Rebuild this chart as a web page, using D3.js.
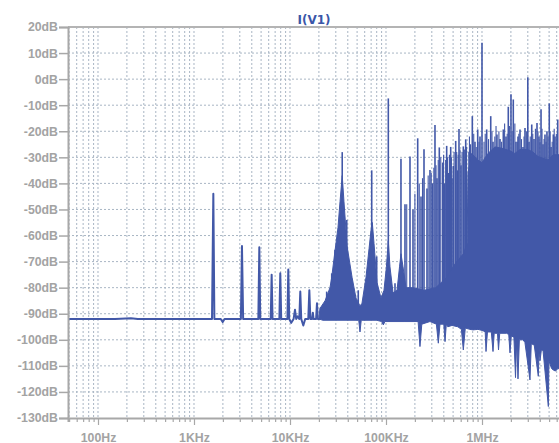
<!DOCTYPE html>
<html>
<head>
<meta charset="utf-8">
<script src="https://cdn.jsdelivr.net/npm/d3@7"></script>
<style>
    body { margin: 0; background: #fff; }
    svg { display: block; font-family: "DejaVu Sans", Verdana, sans-serif; }
    .axis text { fill: #a3a3a3; font-size: 12.3px; font-weight: bold; }
    .axis line, .axis path { stroke: #a8a8a8; }
</style>
</head>
<body>
<svg id="fft" width="559" height="443"></svg>
<script>
// axis ticks
const dbTicks = [20, 10, 0, -10, -20, -30, -40, -50, -60, -70, -80, -90, -100, -110, -120, -130];
const decades = [100, 1e3, 1e4, 1e5, 1e6];
const decadeLabels = ["100Hz", "1KHz", "10KHz", "100KHz", "1MHz"];

// [freq Hz, dB] - flat floor + first harmonics
const lowTrace = [
    [48.7, -92], [100, -92], [150, -92], [220, -91.7], [260, -92], [1540, -92], [1590, -44], [1630, -92],
    [1900, -92], [1990, -93.2], [2080, -92], [3080, -92], [3160, -64], [3250, -92], [4680, -92], [4790, -64.5],
    [4900, -92], [6300, -92], [6440, -75], [6580, -92], [7750, -92], [7920, -74.5], [8100, -92], [9400, -92],
    [9600, -73], [9820, -92], [10300, -93.5], [10900, -92], [11270, -88.5], [11600, -92], [12000, -91],
    [12500, -92], [12800, -81.5], [13100, -92], [13760, -94.5], [14400, -92], [15500, -92], [15900, -81],
    [16300, -92], [17000, -92], [17300, -89.6], [17600, -92], [18700, -92], [19100, -86], [19500, -92],
    [20500, -92]
];

// dense part: top and bottom edge of the filled band
const bandTop = [
    [20000, -92], [20500, -88], [23200, -85], [26100, -80], [27200, -76], [29400, -66], [31600, -57],
    [33200, -47], [35000, -37], [36500, -47], [39300, -64], [44300, -76], [48700, -84], [53600, -87],
    [56200, -86], [61900, -76], [66600, -65], [69800, -58], [72000, -55], [75000, -63], [80600, -78],
    [88700, -84], [95300, -81], [101000, -72], [105700, -62], [110000, -72], [118400, -82], [130300, -81],
    [138300, -72], [143300, -67], [150400, -72], [161600, -80], [190000, -80], [250000, -81], [330000, -80],
    [430000, -76], [520000, -71], [640000, -67], [700000, -63], [714000, -36], [781000, -28.5], [900000, -31],
    [1.0e6, -32], [1.155e6, -28.5], [1.365e6, -26], [1.61e6, -26.5], [1.96e6, -27.5], [2.2e6, -28.5],
    [2.49e6, -27], [3.0e6, -27], [3.4e6, -28], [3.83e6, -29.7], [4.87e6, -31], [5.5e6, -29], [6.34e6, -29],
    [1e7, -29]
];
const bandBottom = [
    [20000, -92], [22000, -92.5], [30000, -92.5], [52000, -92.5], [53600, -97], [55200, -92.5], [80000, -92.5],
    [90000, -93], [93800, -94.3], [97500, -93], [157700, -93], [216000, -93], [225800, -102.6], [236000, -94],
    [287000, -93], [335000, -94], [350700, -101.3], [365000, -94], [400000, -94], [412000, -100.7],
    [425000, -94], [440000, -95], [487000, -94.5], [560000, -95], [610000, -96], [638800, -103.9],
    [670000, -95.5], [750000, -96], [806000, -96.2], [908000, -96], [1.024e6, -96.5], [1.08e6, -97],
    [1.101e6, -104.5], [1.14e6, -97], [1.25e6, -97], [1.302e6, -104.5], [1.34e6, -97.5], [1.45e6, -97.5],
    [1.486e6, -103.9], [1.53e6, -97.5], [1.807e6, -97.5], [1.9e6, -98], [1.957e6, -105], [2.02e6, -98.5],
    [2.15e6, -99], [2.234e6, -114.5], [2.3e6, -100], [2.371e6, -115], [2.45e6, -100], [2.673e6, -100],
    [2.8e6, -101], [3.162e6, -115.4], [3.26e6, -101.5], [3.5e6, -102], [3.86e6, -114], [3.94e6, -103],
    [4.02e6, -108], [4.15e6, -104], [4.32e6, -104], [4.91e6, -125.6], [4.98e6, -108], [5.3e6, -111],
    [5.49e6, -111.5], [5.83e6, -112], [6.19e6, -111], [7.3e6, -112], [1e7, -112]
];

// harmonic spikes sticking out of the band [freq Hz, peak dB]
const spikes = [
    [24100, -81.5], [27200, -74.5], [29400, -65.5], [35000, -28], [39000, -54], [43900, -77], [51400, -81],
    [71000, -35], [80000, -68], [105700, -7.4], [124100, -78.3], [143200, -30.5], [157700, -48], [177800, -29.7],
    [191100, -50], [213900, -22.7], [231600, -45], [248800, -26.9], [267300, -42], [287100, -34.9],
    [305100, -40], [323800, -17.6], [339800, -38], [359100, -26.2], [389700, -32], [406600, -40],
    [428600, -25.6], [447700, -36], [472000, -26], [487000, -38], [502300, -33.3], [532000, -23.7],
    [555800, -35], [575900, -19.1], [604100, -33], [638800, -25.8], [676600, -23.1], [732500, -27.9],
    [792500, -14.2], [845000, -24], [902000, -19.3], [953000, -22], [1.0e6, 14], [1.119e6, -19.3],
    [1.233e6, -14.2], [1.302e6, -24], [1.432e6, -21.2], [1.54e6, -23], [1.667e6, -19.3], [1.778e6, -22],
    [1.879e6, -10.6], [2.004e6, -5.8], [2.118e6, -7.8], [2.259e6, -24], [2.371e6, -22], [2.488e6, -19.3],
    [2.673e6, -26], [2.805e6, -18.7], [3.0e6, 0.7], [3.09e6, -24], [3.297e6, -17.4], [3.481e6, -23],
    [3.74e6, -16.8], [3.926e6, -22], [4.12e6, -11.6], [4.32e6, -25], [4.53e6, -21.2], [4.75e6, -20],
    [5.02e6, -9.3], [5.24e6, -26], [5.53e6, -21.2], [5.76e6, -22], [6.15e6, -15.5]
];

// thinner in-between lines (comb + hairy top of the band)
const minorSpikes = [
    [164400, -48], [200000, -44], [222000, -40], [240000, -38], [275000, -37], [296000, -36], [315000, -34],
    [332000, -33], [350000, -31], [372000, -30], [398000, -29], [418000, -31], [438000, -30], [458000, -29],
    [480000, -30], [512000, -28], [545000, -28], [565000, -29], [590000, -27], [620000, -28], [655000, -27],
    [690000, -26], [740000, -22], [760000, -25], [820000, -21], [870000, -26], [930000, -24], [1.05e6, -24],
    [1.08e6, -21], [1.17e6, -23], [1.27e6, -20], [1.36e6, -22], [1.4e6, -18], [1.5e6, -20], [1.6e6, -24],
    [1.72e6, -17], [1.83e6, -21], [1.93e6, -18], [2.06e6, -20], [2.2e6, -17], [2.33e6, -24], [2.42e6, -21],
    [2.58e6, -23], [2.74e6, -22], [2.9e6, -20], [3.18e6, -22], [3.38e6, -21], [3.6e6, -19], [3.83e6, -20],
    [4.02e6, -24], [4.22e6, -19], [4.43e6, -23], [4.65e6, -24], [4.88e6, -22], [5.13e6, -20], [5.38e6, -24],
    [5.65e6, -19], [5.95e6, -21]
];

const traceColor = "#4258a8";
const gridColor = "#a9b6c4";

const svg = d3.select("#fft");
const pLeft = 68, pTop = 27, pBottom = 418, pRight = 578;

const x = d3.scaleLog().domain([48.7, 1e7]).range([pLeft, pRight]);
const y = d3.scaleLinear().domain([-130, 20]).range([pBottom, pTop]);

// grid freqs: 1..9 per decade
let gridFreqs = [];
[10, 100, 1e3, 1e4, 1e5, 1e6].forEach(d => {
    d3.range(1, 10).forEach(m => {
        let f = d * m;
        if (f > x.domain()[0] && f < x.domain()[1]) gridFreqs.push(f);
    });
});

// Grid
let grid = svg.append("g");
grid.selectAll(".vg").data(gridFreqs).enter().append("line")
    .attr("x1", d => x(d)).attr("x2", d => x(d))
    .attr("y1", pTop).attr("y2", pBottom)
    .attr("stroke", gridColor).attr("stroke-width", 1).attr("stroke-dasharray", "2,2");
grid.selectAll(".hg").data(dbTicks.filter(d => d > -130 && d < 20)).enter().append("line")
    .attr("x1", pLeft).attr("x2", pRight)
    .attr("y1", d => y(d)).attr("y2", d => y(d))
    .attr("stroke", gridColor).attr("stroke-width", 1).attr("stroke-dasharray", "2,2");

// top frame line
svg.append("line")
    .attr("x1", pLeft).attr("x2", pRight).attr("y1", pTop).attr("y2", pTop)
    .attr("stroke", "#b4b4b4").attr("stroke-width", 2);

// Trace
svg.append("clipPath").attr("id", "clip")
    .append("rect").attr("x", pLeft).attr("y", pTop).attr("width", pRight - pLeft).attr("height", pBottom - pTop);
let plot = svg.append("g").attr("clip-path", "url(#clip)");

let line = d3.line().x(d => x(d[0])).y(d => y(d[1]));

plot.append("path")
    .attr("d", line(lowTrace))
    .attr("fill", "none")
    .attr("stroke", traceColor)
    .attr("stroke-width", 2)
    .attr("stroke-linejoin", "round");

plot.selectAll(".minor").data(minorSpikes).enter().append("line")
    .attr("x1", d => x(d[0])).attr("x2", d => x(d[0]))
    .attr("y1", y(-90)).attr("y2", d => y(d[1]))
    .attr("stroke", traceColor)
    .attr("stroke-width", 1.1);

plot.selectAll(".spike").data(spikes).enter().append("line")
    .attr("x1", d => x(d[0])).attr("x2", d => x(d[0]))
    .attr("y1", y(-90)).attr("y2", d => y(d[1]))
    .attr("stroke", traceColor)
    .attr("stroke-width", 1.6);

// band polygon: top edge forward, bottom edge back
let band = bandTop.concat(bandBottom.slice().reverse());
plot.append("path")
    .attr("d", line(band) + "Z")
    .attr("fill", traceColor)
    .attr("stroke", traceColor)
    .attr("stroke-width", 1)
    .attr("stroke-linejoin", "round");

// Axes
let yAxis = d3.axisLeft(y)
    .tickValues(dbTicks)
    .tickSize(9)
    .tickPadding(1)
    .tickFormat(d => d + "dB");
let gy = svg.append("g").attr("class", "axis")
    .attr("transform", "translate(" + pLeft + ",0)")
    .call(yAxis);
gy.select(".domain").attr("stroke-width", 2);
gy.selectAll(".tick line").attr("stroke-width", 1.5);

let xAxis = d3.axisBottom(x)
    .tickValues(gridFreqs)
    .tickSize(4)
    .tickFormat(d => {
        let i = decades.indexOf(d);
        return i >= 0 ? decadeLabels[i] : "";
    });
let gx = svg.append("g").attr("class", "axis")
    .attr("transform", "translate(0," + pBottom + ")")
    .call(xAxis);
gx.select(".domain").attr("stroke-width", 2);
gx.selectAll(".tick line").attr("y2", d => decades.indexOf(d) >= 0 ? 7 : 4).attr("stroke-width", 1.2);
gx.selectAll(".tick text").attr("y", 23.5).attr("dy", null);

// title
svg.append("text")
    .attr("x", 314).attr("y", 24)
    .attr("text-anchor", "middle")
    .attr("fill", "#3a56a8")
    .attr("font-size", 12)
    .attr("font-weight", "bold")
    .text("I(V1)");
</script>
</body>
</html>
